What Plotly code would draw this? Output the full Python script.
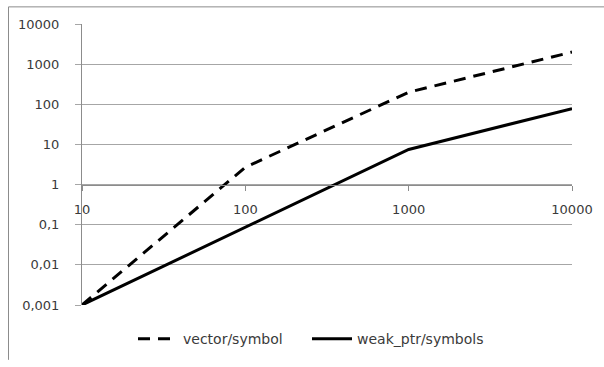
import plotly.graph_objects as go

# Element counts (x) and timings (y) for the two container strategies
sizes = [10, 100, 1000, 10000]
size_labels = ["10", "100", "1000", "10000"]
vector_symbol = [0.001, 2.7, 200, 2000]
weak_ptr_symbols = [0.001, 0.085, 7.5, 78]

y_tickvals = [0.001, 0.01, 0.1, 1, 10, 100, 1000, 10000]
y_ticktext = ["0,001", "0,01", "0,1", "1", "10", "100", "1000", "10000"]

GRID = "#a6a6a6"
AXIS = "#8c8c8c"
TEXT = "#3a3a3a"
FONT = "DejaVu Sans"

fig = go.Figure()
fig.add_trace(go.Scatter(
    x=sizes, y=vector_symbol, name="vector/symbol", mode="lines",
    line=dict(color="black", width=3, dash="12px,8px"),
    legend="legend",
))
fig.add_trace(go.Scatter(
    x=sizes, y=weak_ptr_symbols, name="weak_ptr/symbols", mode="lines",
    line=dict(color="black", width=3),
    legend="legend2",
))

W, H = 604, 367
L, R, T, B = 82, 32, 24, 56
pw, ph = W - L - R, H - T - B

def px_x(p):
    return (p - L) / pw

def px_y(p):
    return (H - B - p) / ph

legend_style = dict(
    orientation="h", xanchor="left", y=px_y(346), yanchor="middle",
    font=dict(family=FONT, size=14, color=TEXT),
    bgcolor="rgba(0,0,0,0)", itemwidth=40,
)

fig.update_layout(
    width=W, height=H,
    margin=dict(l=L, r=R, t=T, b=B, pad=0),
    paper_bgcolor="white", plot_bgcolor="white",
    font=dict(family=FONT, size=13, color=TEXT),
    showlegend=True,
    legend=dict(x=px_x(133), **legend_style),
    legend2=dict(x=px_x(307), **legend_style),
    xaxis=dict(
        type="log", range=[1, 4],
        tickvals=sizes, ticktext=size_labels,
        showgrid=False, zeroline=False,
        showline=True, linecolor=AXIS, linewidth=1,
        ticks="outside", ticklen=5, tickcolor=AXIS, tickwidth=1,
        anchor="free", position=3 / 7,
        tickfont=dict(family=FONT, size=13, color=TEXT),
        ticklabelstandoff=8,
    ),
    yaxis=dict(
        type="log", range=[-3, 4],
        tickvals=y_tickvals, ticktext=y_ticktext,
        showgrid=True, gridcolor=GRID, gridwidth=1,
        zeroline=False,
        showline=True, linecolor=AXIS, linewidth=1,
        ticks="outside", ticklen=6, tickcolor=GRID, tickwidth=1,
        tickfont=dict(family=FONT, size=13, color=TEXT),
        ticklabelstandoff=13,
    ),
)

# Chart frame (left and top edges)
fig.add_shape(type="line", xref="paper", yref="paper",
              x0=px_x(8.5), x1=px_x(604), y0=px_y(6.5), y1=px_y(6.5),
              line=dict(color=AXIS, width=1))
fig.add_shape(type="line", xref="paper", yref="paper",
              x0=px_x(8.5), x1=px_x(8.5), y0=px_y(6.5), y1=px_y(367),
              line=dict(color=AXIS, width=1))

fig.write_html("out.html")
